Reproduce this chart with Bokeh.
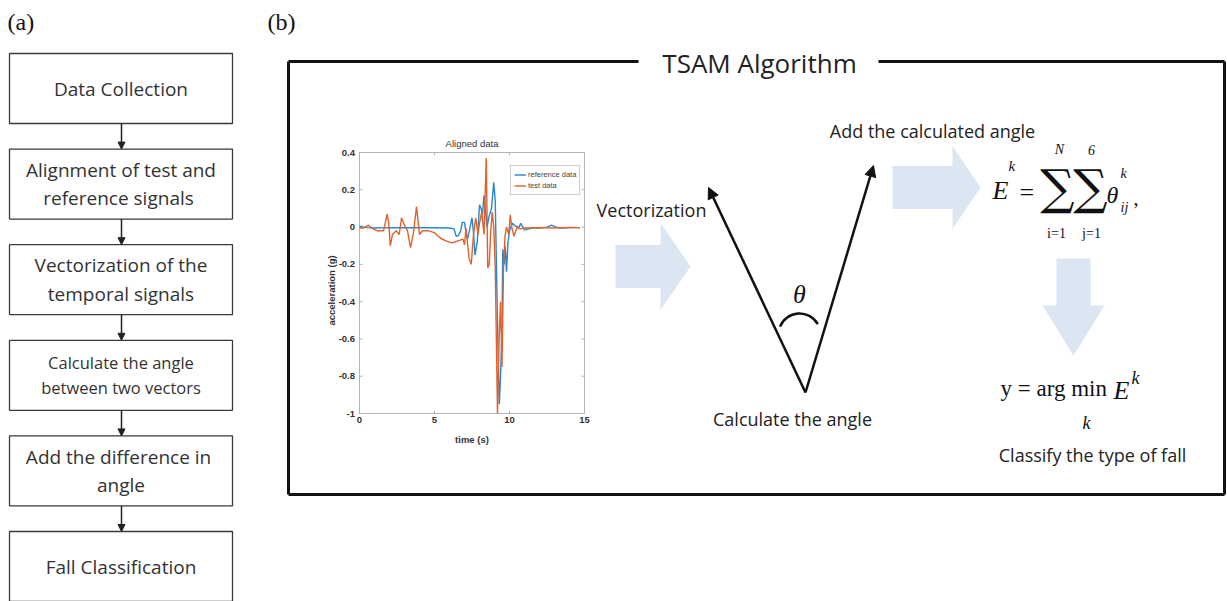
import numpy as np
from bokeh.plotting import figure
from bokeh.models import Range1d, Arrow, NormalHead, Legend, LegendItem, ColumnDataSource
from bokeh.embed import file_html
from bokeh.resources import INLINE
from bokeh.core.properties import value

# ---------------- data ----------------
flow_steps = [
    "Data Collection",
    "Alignment of test and\nreference  signals",
    "Vectorization of the\ntemporal signals",
    "Calculate the angle\nbetween two vectors",
    "Add the difference  in\nangle",
    "Fall Classification",
]
flow_font_sizes = ["19px", "19px", "19px", "16.5px", "19px", "19px"]

ref_t = [0, 0.5, 1, 2, 3, 4, 5, 6, 6.3, 6.45, 6.6, 6.75, 6.85, 7.0, 7.1, 7.2, 7.35, 7.5,
         7.6, 7.7, 7.85, 8.0, 8.1, 8.2, 8.3, 8.4, 8.5, 8.65, 8.8, 8.95, 9.05, 9.15, 9.25,
         9.32, 9.4, 9.5, 9.55, 9.65, 9.7, 9.75, 9.8, 9.9, 10.0, 10.2, 10.4, 10.65, 10.75,
         11.0, 11.5, 12, 12.5, 12.8, 13.1, 13.5, 14, 14.7]
ref_acc = [0.005, -0.003, -0.005, -0.003, -0.004, -0.003, -0.004, -0.005, -0.01, -0.05,
           -0.045, -0.02, 0.025, 0.025, -0.03, -0.065, -0.01, 0.05, -0.03, -0.15, -0.08,
           0.12, 0.1, 0.07, 0.17, 0.09, 0.0, 0.06, 0.1, 0.24, 0.14, -0.3, -0.72, -0.95,
           -0.8, -0.55, -0.12, -0.2, -0.1, -0.15, -0.24, -0.08, -0.02, 0.02, 0.005, 0.0,
           0.02, -0.015, -0.005, -0.005, 0.0, 0.01, 0.0, -0.005, -0.003, -0.003]

test_t = [0, 0.3, 0.6, 0.9, 1.2, 1.6, 1.85, 1.95, 2.05, 2.2, 2.45, 2.65, 2.8, 3.0, 3.2, 3.4,
          3.6, 3.8, 4.0, 4.2, 4.6, 5.0, 5.4, 5.8, 6.2, 6.6, 6.9, 7.0, 7.1, 7.3, 7.45, 7.6,
          7.75, 7.9, 8.0, 8.15, 8.3, 8.45, 8.55, 8.65, 8.75, 8.85, 8.95, 9.05, 9.2, 9.3,
          9.4, 9.5, 9.6, 9.7, 9.8, 9.95, 10.05, 10.15, 10.3, 10.5, 10.7, 11.0, 12.0, 13.0,
          14.0, 14.7]
test_acc = [-0.005, -0.005, 0.01, -0.01, -0.02, -0.02, 0.07, 0.02, -0.1, -0.04, -0.02,
            -0.04, 0.05, 0.01, -0.02, -0.11, -0.03, 0.11, -0.04, -0.02, -0.02, -0.03, -0.06,
            -0.075, -0.085, -0.073, -0.065, -0.095, -0.005, -0.165, -0.2, -0.04, 0.05,
            -0.04, 0.02, 0.08, -0.04, 0.37, -0.22, -0.2, -0.02, 0.08, 0.0, -0.22, -1.0,
            -0.62, -0.4, -0.75, -0.22, -0.05, 0.0, -0.04, 0.066, 0.0, -0.05, 0.0, -0.01,
            -0.005, -0.003, -0.005, -0.002, -0.003]

y_ticks = [-1, -0.8, -0.6, -0.4, -0.2, 0, 0.2, 0.4]
y_tick_labels = ["-1", "-0.8", "-0.6", "-0.4", "-0.2", "0", "0.2", "0.4"]
x_ticks = [0, 5, 10, 15]
x_tick_labels = ["0", "5", "10", "15"]

# ---------------- figure ----------------
p = figure(width=1227, height=601, x_range=Range1d(0, 1227), y_range=Range1d(601, 0),
           output_backend="svg", toolbar_location=None, min_border=0,
           x_axis_location=None, y_axis_location=None)
p.grid.visible = False
p.outline_line_color = None
p.background_fill_color = "white"
p.border_fill_color = "white"

SANS = value("Open Sans")
SERIF = value("Liberation Serif")
TXT = "#222222"
INK = "#111111"

def serif_text(x, y, txt, size, italic=False, align="left"):
    p.text(x=x, y=y, text=txt, text_font=SERIF, text_font_size=size,
           text_font_style="italic" if italic else "normal", text_align=align,
           text_baseline="middle", text_color=INK)

# panel labels
p.text(x=[7, 267], y=[21, 21], text=["(a)", "(b)"], text_font=SERIF,
       text_font_size="24px", text_align="left", text_baseline="middle", text_color=INK)

# ---------------- (a) flowchart ----------------
box_left, box_right, box_top0, box_h, box_pitch = 9, 232, 53, 70, 95.6
tops = [box_top0 + i * box_pitch for i in range(len(flow_steps))]
bottoms = [t + box_h for t in tops]
p.quad(left=box_left, right=box_right, top=tops, bottom=bottoms,
       fill_color="white", line_color="#3a3a3a", line_width=1.3)
flow_src = ColumnDataSource(dict(x=[(box_left + box_right) / 2] * len(flow_steps),
                                 y=[t + box_h / 2 for t in tops], text=flow_steps,
                                 fs=flow_font_sizes))
p.text(x="x", y="y", text="text", text_font_size="fs", source=flow_src, text_font=SANS,
       text_align="center", text_baseline="middle", text_color="#333333",
       text_line_height=1.1)
for i in range(len(flow_steps) - 1):
    p.add_layout(Arrow(end=NormalHead(size=7, fill_color="#222", line_color="#222"),
                       x_start=121, y_start=bottoms[i], x_end=121, y_end=tops[i + 1],
                       line_width=1.5, line_color="#222"))

# ---------------- (b) frame ----------------
fl, fr, ft, fb = 288, 1224, 61, 494
p.segment(x0=[fl, 878, fl, fr, fl], y0=[ft, ft, ft, ft, fb],
          x1=[638, fr, fl, fr, fr], y1=[ft, ft, fb, fb, fb],
          line_width=3, line_color=INK)
p.text(x=[759], y=[62], text=["TSAM Algorithm"], text_font=SANS, text_font_size="26px",
       text_align="center", text_baseline="middle", text_color=TXT)

# light blue block arrows
def h_arrow(x0, xh, x1, yc, bh, hh):
    return ([x0, xh, xh, x1, xh, xh, x0],
            [yc - bh, yc - bh, yc - hh, yc, yc + hh, yc + bh, yc + bh])

def v_arrow(y0, yh, y1, xc, bh, hh):
    return ([xc - bh, xc - bh, xc - hh, xc, xc + hh, xc + bh, xc + bh],
            [y0, yh, yh, y1, yh, yh, y0])

a1 = h_arrow(615, 660, 690, 266, 21.5, 43.5)
a2 = h_arrow(892, 952, 980, 187, 21.5, 41.5)
a3 = v_arrow(258, 305, 355, 1073, 17, 31)
p.patches(xs=[a1[0], a2[0], a3[0]], ys=[a1[1], a2[1], a3[1]],
          fill_color="#dce6f2", line_color=None)

# vectors
for (xe, ye) in [(708, 187), (873, 165)]:
    p.add_layout(Arrow(end=NormalHead(size=11, fill_color=INK, line_color=INK),
                       x_start=805, y_start=392, x_end=xe, y_end=ye,
                       line_width=2.5, line_color=INK))
p.arc(x=[799], y=[334], radius=21, start_angle=np.radians(30), end_angle=np.radians(158),
      line_width=2.5, line_color=INK)
serif_text([799], [294], ["θ"], "26px", italic=True, align="center")

# captions
p.text(x=[651, 792, 932, 1092], y=[209, 418, 130, 454],
       text=["Vectorization", "Calculate the angle", "Add the calculated angle",
             "Classify the type of fall"],
       text_font=SANS, text_font_size="18px", text_align="center", text_baseline="middle",
       text_color=TXT)

# formula E^k = sum sum theta
serif_text([992], [190], ["E"], "26px", italic=True)
serif_text([1008], [165], ["k"], "15px", italic=True)
serif_text([1019], [192], ["="], "26px")
p.text(x=[1057, 1090], y=[186, 186], text=["∑", "∑"], text_font=value("DejaVu Serif"),
       text_font_size="48px", text_align="center", text_baseline="middle", text_color=INK)
serif_text([1059, 1091], [149, 149], ["N", "6"], "14px", italic=True, align="center")
serif_text([1056, 1091], [233, 233], ["i=1", "j=1"], "14px", align="center")
serif_text([1106], [194], ["θ"], "24px", italic=True)
serif_text([1120, 1120], [173, 207], ["k", "ij"], "14px", italic=True)
serif_text([1133], [197], [","], "20px")

# formula y = arg min E^k
serif_text([1000], [388], ["y = arg min"], "23px")
serif_text([1113], [390], ["E"], "26px", italic=True)
serif_text([1131, 1082], [377, 422], ["k", "k"], "18px", italic=True)

# ---------------- inner chart "Aligned data" ----------------
sub = p.subplot(x_source=Range1d(0, 15), y_source=Range1d(-1, 0.4),
                x_target=Range1d(359, 584), y_target=Range1d(413, 152))
sub.quad(left=0, right=15, bottom=-1, top=0.4, fill_color="white",
         line_color="#b4b4b4", line_width=1)
sub.segment(x0=0, y0=y_ticks, x1=0.2, y1=y_ticks, line_color="#b4b4b4")
sub.segment(x0=15, y0=y_ticks, x1=14.8, y1=y_ticks, line_color="#b4b4b4")
sub.segment(x0=x_ticks, y0=-1, x1=x_ticks, y1=-0.984, line_color="#b4b4b4")
sub.segment(x0=x_ticks, y0=0.4, x1=x_ticks, y1=0.384, line_color="#b4b4b4")
r_ref = sub.line(x=ref_t, y=ref_acc, line_color="#2a86d1", line_width=1.4)
r_test = sub.line(x=test_t, y=test_acc, line_color="#e0622a", line_width=1.4)

CH = value("Liberation Sans")
sub.text(x=-0.3, y=y_ticks, text=y_tick_labels, text_font=CH, text_font_size="9.5px",
         text_font_style="bold", text_align="right", text_baseline="middle",
         text_color="#333")
sub.text(x=x_ticks, y=-1.02, text=x_tick_labels, text_font=CH, text_font_size="9.5px",
         text_font_style="bold", text_align="center", text_baseline="top", text_color="#333")
sub.text(x=[7.5], y=[-1.14], text=["time (s)"], text_font=CH, text_font_size="9.5px",
         text_font_style="bold", text_align="center", text_baseline="middle",
         text_color="#333")
sub.text(x=[-1.9], y=[-0.34], text=["acceleration (g)"], text_font=CH,
         text_font_size="9.5px", text_font_style="bold", text_align="center",
         text_baseline="middle", angle=np.pi / 2, text_color="#333")
sub.text(x=[7.5], y=[0.45], text=["Aligned data"], text_font=CH, text_font_size="9.5px",
         text_align="center", text_baseline="middle", text_color="#333")

legend = Legend(items=[LegendItem(label="reference data", renderers=[r_ref]),
                       LegendItem(label="test data", renderers=[r_test])],
                location=(510, 406), label_text_font_size="7.5px",
                label_text_font="Liberation Sans", label_height=11, glyph_height=11,
                glyph_width=12, label_standoff=2, spacing=0, padding=3, margin=0,
                border_line_color="#a0a0a0", border_line_width=1,
                background_fill_color="white", background_fill_alpha=1)
p.add_layout(legend)

open("out.html", "w").write(file_html(p, INLINE))
